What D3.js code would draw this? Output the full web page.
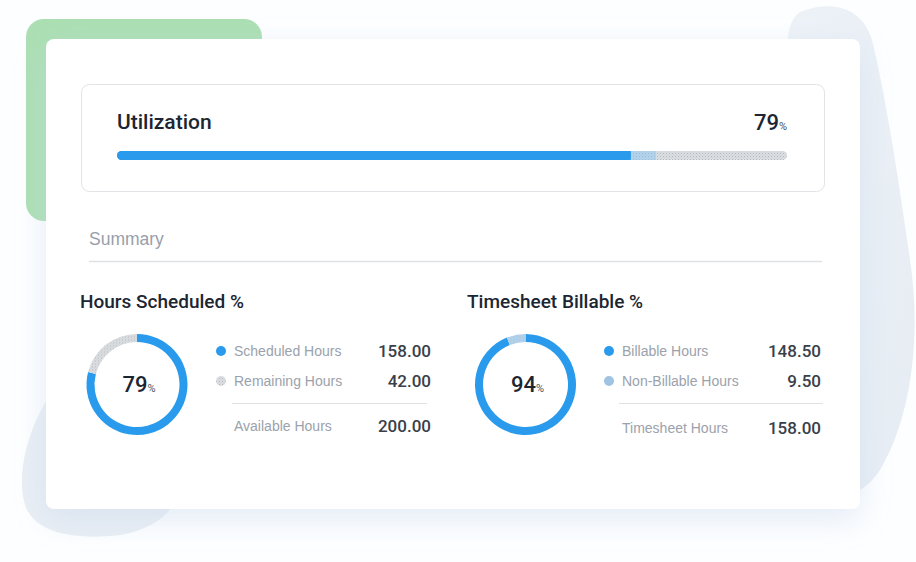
<!DOCTYPE html>
<html>
<head>
<meta charset="utf-8">
<script src="https://cdn.jsdelivr.net/npm/d3@7"></script>
<style>
html,body{margin:0;padding:0;background:#ffffff;}
svg{display:block;}
</style>
</head>
<body>
<svg id="chart" width="916" height="562"></svg>
<script>
// ---- data ----
const utilizationTitle = "Utilization";
const utilizationPct = 79;
const utilSegmentKeys = ["worked", "scheduled", "remaining"];
const utilSegmentValues = [76.7, 3.8, 19.5];

const summaryTitle = "Summary";

const donutTitles = ["Hours Scheduled %", "Timesheet Billable %"];
const donutPercents = [79, 94];
const scheduledLabels = ["Scheduled Hours", "Remaining Hours"];
const scheduledValues = [158.00, 42.00];
const scheduledTotalLabel = "Available Hours";
const scheduledTotal = 200.00;
const billableLabels = ["Billable Hours", "Non-Billable Hours"];
const billableValues = [148.50, 9.50];
const billableTotalLabel = "Timesheet Hours";
const billableTotal = 158.00;

// ---- styles ----
const BLUE = "#2a9bec";
const TITLE = "#1c2632";
const LABEL = "#9ba2ab";
const VALUE = "#3a4049";
const HEAD_FONT = "Roboto, 'Open Sans', sans-serif";
const LABEL_FONT = "'Liberation Sans', Arial, sans-serif";

const svg = d3.select("#chart");
const defs = svg.append("defs");

// dotted grey pattern
const pg = defs.append("pattern").attr("id","dotGrey").attr("patternUnits","userSpaceOnUse")
  .attr("width",3).attr("height",3);
pg.append("rect").attr("width",3).attr("height",3).attr("fill","#dcdfe2");
pg.append("rect").attr("x",0).attr("y",0).attr("width",1).attr("height",1).attr("fill","#b3b8be");
pg.append("rect").attr("x",1.5).attr("y",1.5).attr("width",1).attr("height",1).attr("fill","#c3c7cc");

// dotted light blue pattern
const pb = defs.append("pattern").attr("id","dotBlue").attr("patternUnits","userSpaceOnUse")
  .attr("width",3).attr("height",3);
pb.append("rect").attr("width",3).attr("height",3).attr("fill","#b5d3ea");
pb.append("rect").attr("x",0).attr("y",0).attr("width",1).attr("height",1).attr("fill","#92bde0");
pb.append("rect").attr("x",1.5).attr("y",1.5).attr("width",1).attr("height",1).attr("fill","#a3c7e4");

// shadow filter
const f = defs.append("filter").attr("id","shadow").attr("x","-20%").attr("y","-20%").attr("width","140%").attr("height","140%");
f.append("feGaussianBlur").attr("in","SourceAlpha").attr("stdDeviation",16).attr("result","b");
f.append("feFlood").attr("flood-color","#c3d5ec").attr("flood-opacity",0.45).attr("result","c");
f.append("feComposite").attr("in","c").attr("in2","b").attr("operator","in").attr("result","s");
f.append("feOffset").attr("in","s").attr("dx",0).attr("dy",10).attr("result","o");
const fm = f.append("feMerge");
fm.append("feMergeNode").attr("in","o");
fm.append("feMergeNode").attr("in","SourceGraphic");

// soft blob gradient
const lg = defs.append("linearGradient").attr("id","blobGrad").attr("x1","0").attr("y1","0").attr("x2","1").attr("y2","1");
lg.append("stop").attr("offset","0%").attr("stop-color","#edf2f7");
lg.append("stop").attr("offset","100%").attr("stop-color","#e6ecf3");

// ---- background decorations ----
svg.append("rect").attr("width",916).attr("height",562).attr("fill","#fdfeff");

// right blob
svg.append("path")
  .attr("d","M800,12 C830,0 862,6 872,40 C884,90 896,160 910,260 C922,340 910,420 880,470 C860,500 830,505 800,490 L790,100 C785,50 785,22 800,12 Z")
  .attr("fill","url(#blobGrad)");
// left bottom blob
svg.append("path")
  .attr("d","M60,380 C30,420 15,470 25,505 C35,535 80,540 120,535 C150,530 170,515 175,500 L175,380 Z")
  .attr("fill","#e9eef4");
// green block
svg.append("rect").attr("x",26).attr("y",19).attr("width",236).attr("height",202).attr("rx",18)
  .attr("fill","#abdfb2");

// card
svg.append("rect").attr("x",46).attr("y",39).attr("width",814).attr("height",470).attr("rx",8)
  .attr("fill","#ffffff").attr("filter","url(#shadow)");

// ---- utilization box ----
svg.append("rect").attr("x",81.5).attr("y",84.5).attr("width",743).attr("height",107).attr("rx",8)
  .attr("fill","#ffffff").attr("stroke","#e1e3e6").attr("stroke-width",1);

svg.append("text").attr("x",117).attr("y",129).text(utilizationTitle)
  .attr("font-family",HEAD_FONT).attr("font-weight",500).attr("font-size",21).attr("fill",TITLE);

const utilText = svg.append("text").attr("x",787).attr("y",130).attr("text-anchor","end")
  .attr("font-family",HEAD_FONT).attr("fill",TITLE);
utilText.append("tspan").attr("font-size",22).attr("font-weight",500).text(utilizationPct);
utilText.append("tspan").attr("font-size",11).attr("fill","#4a525c").text("%");

const barX = d3.scaleLinear().domain([0,100]).range([117,787]);
const barY = 151, barH = 9;
const cum = d3.cumsum(utilSegmentValues);
const segs = utilSegmentValues.map((v,i)=>({key:utilSegmentKeys[i], x0: cum[i]-v, x1: cum[i]}));
const fills = {worked: BLUE, scheduled: "url(#dotBlue)", remaining: "url(#dotGrey)"};
const barClip = defs.append("clipPath").attr("id","barClip");
barClip.append("rect").attr("x",barX(0)).attr("y",barY).attr("width",barX(100)-barX(0)).attr("height",barH).attr("rx",barH/2);
const barG = svg.append("g").attr("clip-path","url(#barClip)");
barG.selectAll("rect.seg").data(segs.slice().reverse()).join("rect")
  .attr("x",d=>barX(d.x0)).attr("y",barY)
  .attr("width",d=>barX(d.x1)-barX(d.x0)).attr("height",barH)
  .attr("fill",d=>fills[d.key]);
barG.append("rect").attr("x",barX(0)).attr("y",barY)
  .attr("width",barX(segs[0].x1)-barX(0)).attr("height",barH).attr("rx",barH/2).attr("fill",BLUE);

// ---- summary ----
svg.append("text").attr("x",89).attr("y",245).text(summaryTitle)
  .attr("font-family",LABEL_FONT).attr("font-size",17.5).attr("fill","#97a0aa");
svg.append("line").attr("x1",89).attr("x2",822).attr("y1",261.5).attr("y2",261.5)
  .attr("stroke","#dfe2e5").attr("stroke-width",1.5);

// ---- donut panels ----
const panels = [
  {title: donutTitles[0], pct: donutPercents[0], labels: scheduledLabels, values: scheduledValues,
   totalLabel: scheduledTotalLabel, total: scheduledTotal,
   x: 80, cx: 137, legendX: 221, valueX: 431, lineX0: 232, lineX1: 427,
   secFill: "url(#dotGrey)", secDot: "url(#dotGrey)", totalY: 431},
  {title: donutTitles[1], pct: donutPercents[1], labels: billableLabels, values: billableValues,
   totalLabel: billableTotalLabel, total: billableTotal,
   x: 467, cx: 525.5, legendX: 609, valueX: 821, lineX0: 619, lineX1: 823,
   secFill: "url(#dotBlue)", secDot: "#9fc3e2", totalY: 433}
];

const pie = d3.pie().sort(null).value(d=>d);
const arc = d3.arc().innerRadius(42.5).outerRadius(50.5);
const fmt = d3.format(".2f");

panels.forEach(p => {
  const g = svg.append("g");
  g.append("text").attr("x",p.x).attr("y",308).text(p.title)
    .attr("font-family",HEAD_FONT).attr("font-weight",500).attr("font-size",19).attr("fill",TITLE);

  const dg = g.append("g").attr("transform",`translate(${p.cx},384.5)`);
  dg.selectAll("path").data(pie(p.values)).join("path")
    .attr("d",arc)
    .attr("fill",(d,i)=> i===0 ? BLUE : p.secFill);
  const t = dg.append("text").attr("text-anchor","middle").attr("y",7.5).attr("x",2)
    .attr("font-family",HEAD_FONT).attr("fill",TITLE);
  t.append("tspan").attr("font-size",22).attr("font-weight",500).text(p.pct);
  t.append("tspan").attr("font-size",11).attr("fill","#4a525c").text("%");

  const rowsY = [351, 381];
  p.labels.forEach((lab,i)=>{
    g.append("circle").attr("cx",p.legendX).attr("cy",rowsY[i]).attr("r",5)
      .attr("fill", i===0 ? BLUE : p.secDot);
    g.append("text").attr("x",p.legendX+13).attr("y",rowsY[i]+5).text(lab)
      .attr("font-family",LABEL_FONT).attr("font-size",14).attr("fill",LABEL);
    g.append("text").attr("x",p.valueX).attr("y",rowsY[i]+6).attr("text-anchor","end").text(fmt(p.values[i]))
      .attr("font-family",HEAD_FONT).attr("font-weight",500).attr("font-size",17).attr("fill",VALUE);
  });
  g.append("line").attr("x1",p.lineX0).attr("x2",p.lineX1).attr("y1",403.5).attr("y2",403.5)
    .attr("stroke","#dfe2e5").attr("stroke-width",1);
  g.append("text").attr("x",p.legendX+13).attr("y",p.totalY).text(p.totalLabel)
    .attr("font-family",LABEL_FONT).attr("font-size",14).attr("fill",LABEL);
  g.append("text").attr("x",p.valueX).attr("y",p.totalY+1).attr("text-anchor","end").text(fmt(p.total))
    .attr("font-family",HEAD_FONT).attr("font-weight",500).attr("font-size",17).attr("fill",VALUE);
});
</script>
</body>
</html>
